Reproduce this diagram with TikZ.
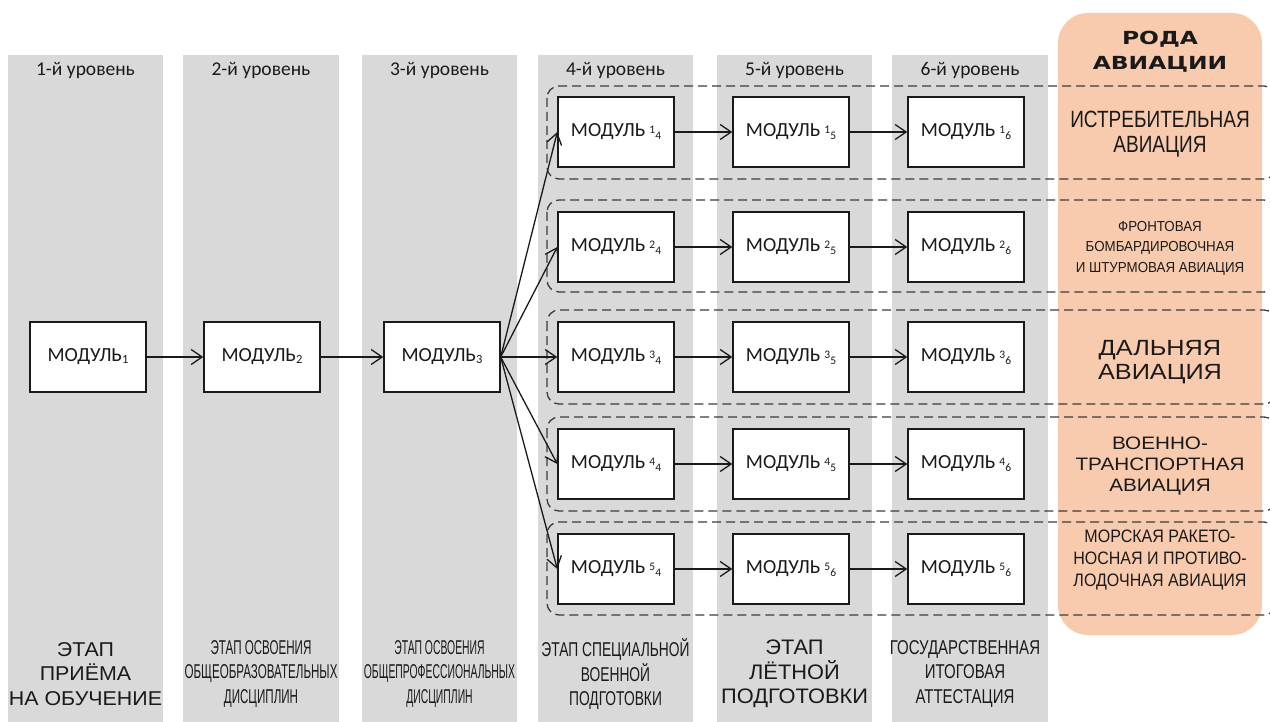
\documentclass[tikz,border=0pt]{standalone}
\usepackage{fontspec}
\usetikzlibrary{arrows.meta}
\setmainfont{Liberation Sans}
\newfontfamily\carl{Carlito}
\newfontfamily\fPriem[FakeStretch=1.07]{Liberation Sans}
\newfontfamily\fObr[FakeStretch=0.58]{Liberation Sans}
\newfontfamily\fProf[FakeStretch=0.52]{Liberation Sans}
\newfontfamily\fSpec[FakeStretch=0.69]{Liberation Sans}
\newfontfamily\fLet[FakeStretch=1.04]{Liberation Sans}
\newfontfamily\fGos[FakeStretch=0.75]{Liberation Sans}
\newfontfamily\fRoda[FakeStretch=1.3]{DejaVu Sans}
\newfontfamily\fIstr[FakeStretch=0.81]{Liberation Sans}
\newfontfamily\fFront[FakeStretch=0.92]{Liberation Sans}
\newfontfamily\fWide[FakeStretch=1.15]{Liberation Sans}
\newfontfamily\fMor[FakeStretch=0.89]{Liberation Sans}
\definecolor{colgray}{HTML}{D9D9D9}
\definecolor{peach}{HTML}{F9CBAE}
\definecolor{ink}{HTML}{1A1A1A}
\newcommand\modsub[1]{МОДУЛЬ\raisebox{-2pt}{\fontsize{12.5}{12.5}\selectfont #1}}
\newcommand\modtwo[2]{МОДУЛЬ\hspace{4pt}\raisebox{3.7pt}{\fontsize{11.5}{11.5}\selectfont #1}\raisebox{-2.6pt}{\fontsize{11.5}{11.5}\selectfont #2}}
\tikzset{
  hdr/.style={text=ink, inner sep=0pt, font=\carl\fontsize{19.5}{22}\selectfont},
  modbox/.style={draw=ink, line width=1.4pt, fill=white, minimum width=116pt, minimum height=70pt, inner sep=0pt, text=ink, font=\carl\fontsize{20}{24}\selectfont},
  arr/.style={draw=ink, line width=1.3pt, -{Straight Barb[length=11pt,width=15pt]}},
  dbox/.style={draw=ink!85, line width=1.3pt, dash pattern=on 9pt off 5pt, rounded corners=12pt},
  lbl/.style={text=ink, inner sep=0pt, align=center}
}
\begin{document}
\begin{tikzpicture}[x=1pt,y=-1pt]
\useasboundingbox (0,0) rectangle (1270,722);
\clip (0,0) rectangle (1270,722);
% columns
\fill[colgray] (8,55) rectangle (163,722);
\fill[colgray] (183,55) rectangle (339,722);
\fill[colgray] (362,55) rectangle (517,722);
\fill[colgray] (538,55) rectangle (693,722);
\fill[colgray] (717,55) rectangle (872,722);
\fill[colgray] (892,55) rectangle (1048,722);
\fill[peach, rounded corners=30pt] (1058,13) rectangle (1262,635);
% headers
\node[hdr] (h1) at (85.5,70) {1-й уровень};
\node[hdr] (h2) at (261,70) {2-й уровень};
\node[hdr] (h3) at (439.5,70) {3-й уровень};
\node[hdr] (h4) at (615.5,70) {4-й уровень};
\node[hdr] (h5) at (794.5,70) {5-й уровень};
\node[hdr] (h6) at (970,70) {6-й уровень};
% dashed groups
\draw[dbox] (547,86) rectangle (1276,179);
\draw[dbox] (547,200) rectangle (1276,292);
\draw[dbox] (547,310) rectangle (1276,404);
\draw[dbox] (547,417) rectangle (1276,511);
\draw[dbox] (547,522) rectangle (1276,615);
% modules
\node[modbox] (m1) at (88,357) {\modsub{1}};
\node[modbox] (m2) at (262,357) {\modsub{2}};
\node[modbox] (m3) at (442,357) {\modsub{3}};
\node[modbox] (m41) at (616,132) {\modtwo{1}{4}};
\node[modbox] (m42) at (616,247) {\modtwo{2}{4}};
\node[modbox] (m43) at (616,357) {\modtwo{3}{4}};
\node[modbox] (m44) at (616,464) {\modtwo{4}{4}};
\node[modbox] (m45) at (616,569) {\modtwo{5}{4}};
\node[modbox] (m51) at (791,132) {\modtwo{1}{5}};
\node[modbox] (m52) at (791,247) {\modtwo{2}{5}};
\node[modbox] (m53) at (791,357) {\modtwo{3}{5}};
\node[modbox] (m54) at (791,464) {\modtwo{4}{5}};
\node[modbox] (m55) at (791,569) {\modtwo{5}{6}};
\node[modbox] (m61) at (966,132) {\modtwo{1}{6}};
\node[modbox] (m62) at (966,247) {\modtwo{2}{6}};
\node[modbox] (m63) at (966,357) {\modtwo{3}{6}};
\node[modbox] (m64) at (966,464) {\modtwo{4}{6}};
\node[modbox] (m65) at (966,569) {\modtwo{5}{6}};
% arrows
\draw[arr] (m1.east) -- (m2.west);
\draw[arr] (m2.east) -- (m3.west);
\foreach \r in {1,...,5}{
  \draw[arr] (m3.east) -- (m4\r.west);
  \draw[arr] (m4\r.east) -- (m5\r.west);
  \draw[arr] (m5\r.east) -- (m6\r.west);
}
% bottom labels
\node[lbl, font=\fPriem\fontsize{20}{24.5}\selectfont] (b1) at (85.5,674) {ЭТАП\\ПРИЁМА\\НА ОБУЧЕНИЕ};
\node[lbl, font=\fObr\fontsize{20}{24.5}\selectfont] (b2) at (261,674) {ЭТАП ОСВОЕНИЯ\\ОБЩЕОБРАЗОВАТЕЛЬНЫХ\\ДИСЦИПЛИН};
\node[lbl, font=\fProf\fontsize{20}{24.5}\selectfont] (b3) at (439.5,674) {ЭТАП ОСВОЕНИЯ\\ОБЩЕПРОФЕССИОНАЛЬНЫХ\\ДИСЦИПЛИН};
\node[lbl, font=\fSpec\fontsize{20}{24.5}\selectfont] (b4) at (615.5,674) {ЭТАП СПЕЦИАЛЬНОЙ\\ВОЕННОЙ\\ПОДГОТОВКИ};
\node[lbl, font=\fLet\fontsize{21}{24.5}\selectfont] (b5) at (794.5,674) {ЭТАП\\ЛЁТНОЙ\\ПОДГОТОВКИ};
\node[lbl, font=\fGos\fontsize{20}{24.5}\selectfont] (b6) at (965,674) {ГОСУДАРСТВЕННАЯ\\ИТОГОВАЯ\\АТТЕСТАЦИЯ};
% right column labels
\node[lbl, font=\fRoda\bfseries\fontsize{18}{25}\selectfont] (r0) at (1160,52) {РОДА\\АВИАЦИИ};
\node[lbl, font=\fIstr\fontsize{23.5}{25.5}\selectfont] (r1) at (1160,134) {ИСТРЕБИТЕЛЬНАЯ\\АВИАЦИЯ};
\node[lbl, font=\fFront\fontsize{14.5}{20.5}\selectfont] (r2) at (1160,248) {ФРОНТОВАЯ\\БОМБАРДИРОВОЧНАЯ\\И ШТУРМОВАЯ АВИАЦИЯ};
\node[lbl, font=\fWide\fontsize{22}{24}\selectfont] (r3) at (1160,362) {ДАЛЬНЯЯ\\АВИАЦИЯ};
\node[lbl, font=\fWide\fontsize{18}{21}\selectfont] (r4) at (1160,466) {ВОЕННО-\\ТРАНСПОРТНАЯ\\АВИАЦИЯ};
\node[lbl, font=\fMor\fontsize{18}{22}\selectfont] (r5) at (1160,560) {МОРСКАЯ РАКЕТО-\\НОСНАЯ И ПРОТИВО-\\ЛОДОЧНАЯ АВИАЦИЯ};
\end{tikzpicture}
\end{document}
